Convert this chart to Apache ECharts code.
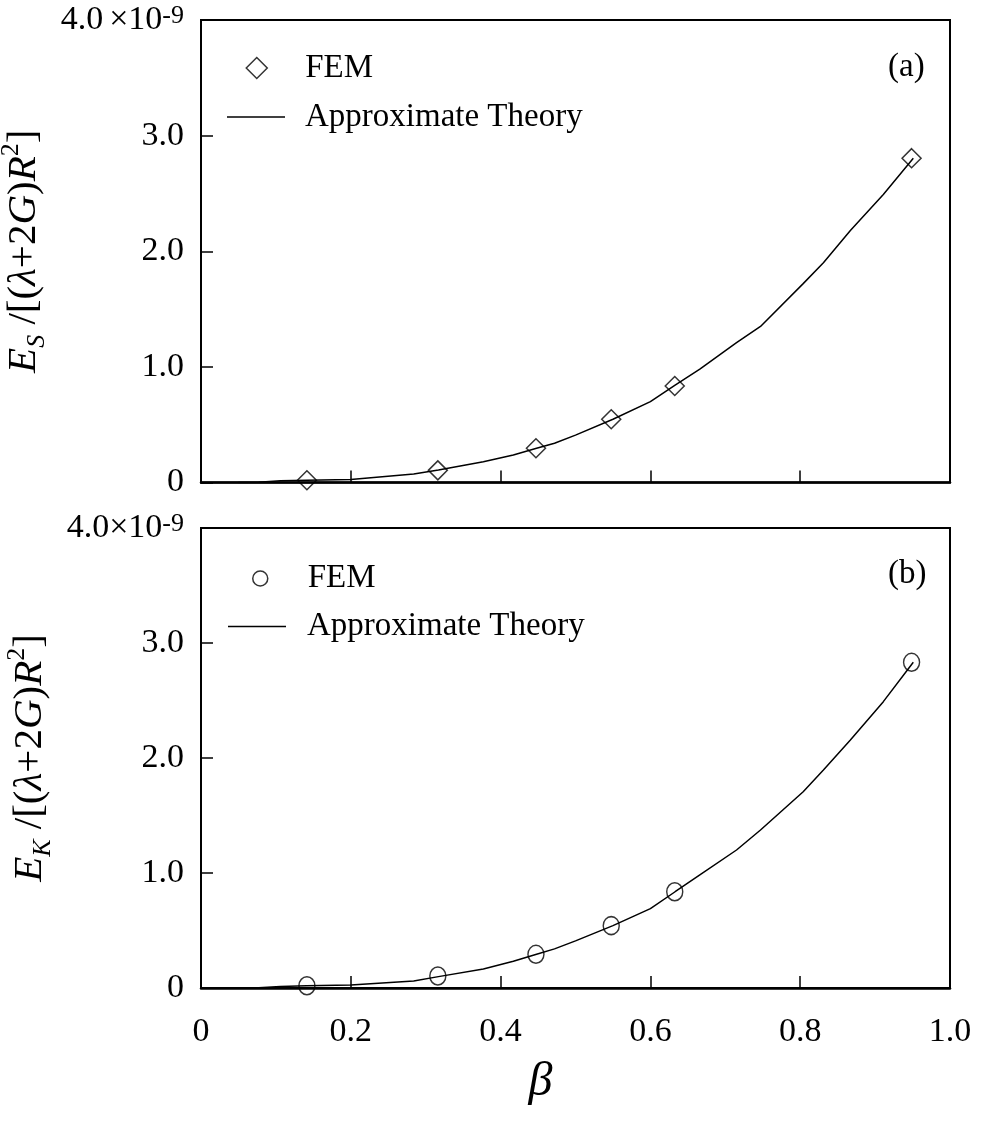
<!DOCTYPE html>
<html>
<head>
<meta charset="utf-8">
<title>Elastic energy vs beta</title>
<script src="https://cdn.jsdelivr.net/npm/echarts@6/dist/echarts.min.js"></script>
<style>
  html, body { margin: 0; padding: 0; background: #fff; }
  #chart { width: 988px; height: 1126px; }
</style>
</head>
<body>
<div id="chart"></div>
<script>
// FEM results (energies in units of 1e-9)
const betaFEM = [0.1414, 0.3162, 0.4472, 0.5477, 0.6325, 0.9487];
const esFEM = [0.02, 0.105, 0.296, 0.547, 0.835, 2.805];
const ekFEM = [0.02, 0.104, 0.293, 0.542, 0.837, 2.832];

// Approximate theory curves
const betaTheory = [0.05, 0.077, 0.106, 0.141, 0.200, 0.284, 0.317, 0.377, 0.417, 0.448, 0.472, 0.500, 0.550, 0.600, 0.633, 0.666, 0.715, 0.747, 0.804, 0.831, 0.867, 0.911, 0.951];
const esTheory = [0, 0.002, 0.016, 0.020, 0.025, 0.074, 0.108, 0.180, 0.238, 0.296, 0.339, 0.410, 0.547, 0.700, 0.843, 0.980, 1.210, 1.350, 1.720, 1.900, 2.180, 2.490, 2.805];
const ekTheory = [0, 0.003, 0.012, 0.020, 0.026, 0.060, 0.099, 0.165, 0.232, 0.293, 0.340, 0.410, 0.542, 0.690, 0.837, 0.983, 1.200, 1.374, 1.707, 1.896, 2.157, 2.490, 2.832];

const xTicks = [0, 0.2, 0.4, 0.6, 0.8, 1.0];
const yTicks = [0, 1, 2, 3, 4];

const FONT = "'Liberation Serif', 'Times New Roman', serif";
const BLACK = '#000';

function pairs(xs, ys) { return xs.map((x, i) => [x, ys[i]]); }

const nameRich = {
  i:   { fontFamily: FONT, fontStyle: 'italic', fontSize: 41, lineHeight: 52, color: BLACK },
  n:   { fontFamily: FONT, fontSize: 41, lineHeight: 52, color: BLACK },
  sub: { fontFamily: FONT, fontStyle: 'italic', fontSize: 26, lineHeight: 26, verticalAlign: 'bottom', color: BLACK },
  sup: { fontFamily: FONT, fontSize: 26, lineHeight: 26, verticalAlign: 'top', color: BLACK }
};

function yAxisFor(gridIndex, subLetter, topLabel) {
  return {
    type: 'value', gridIndex,
    min: yTicks[0], max: yTicks[yTicks.length - 1], interval: 1,
    name: '{i|E}{sub|' + subLetter + '}{n| /[(}{i|λ}{n|+2}{i|G}{n|)}{i|R}{sup|2}{n|]}',
    nameLocation: 'middle', nameRotate: 90, nameGap: 135,
    nameTextStyle: { rich: nameRich },
    axisLine: { show: true, lineStyle: { color: BLACK, width: 2 } },
    axisTick: { show: true, inside: true, length: 12, lineStyle: { color: BLACK, width: 1.5 } },
    splitLine: { show: false },
    axisLabel: {
      margin: 17, fontFamily: FONT, fontSize: 34, color: BLACK,
      formatter: v => v === 0 ? '0' : (v === 4 ? topLabel : v.toFixed(1)),
      rich: { sup: { fontFamily: FONT, fontSize: 26, lineHeight: 26, verticalAlign: 'top', color: BLACK },
              sp: { fontFamily: FONT, fontSize: 34, width: 6 } }
    }
  };
}

function xAxisFor(gridIndex, showLabels) {
  return {
    type: 'value', gridIndex,
    min: xTicks[0], max: xTicks[xTicks.length - 1], interval: 0.2,
    name: showLabels ? 'β' : '',
    nameLocation: 'middle', nameGap: 70,
    nameTextStyle: { fontFamily: FONT, fontStyle: 'italic', fontSize: 48, color: BLACK, padding: [0, 70, 0, 0] },
    axisLine: { show: true, lineStyle: { color: BLACK, width: 2.5 } },
    axisTick: { show: true, inside: true, length: 12, lineStyle: { color: BLACK, width: 1.5 } },
    splitLine: { show: false },
    axisLabel: {
      show: showLabels, margin: 27, fontFamily: FONT, fontSize: 34, color: BLACK,
      formatter: v => v === 0 ? '0' : v.toFixed(1)
    }
  };
}

const markerStyle = { color: 'transparent', borderColor: BLACK, borderWidth: 1.5 };
const lineIconStyle = { color: BLACK, borderWidth: 0 };
function legendText(pad) {
  return { fontFamily: FONT, fontSize: 33, color: BLACK, padding: [0, 0, 0, pad] };
}

const option = {
  backgroundColor: '#fff',
  animation: false,
  title: [
    { text: '(a)', left: 888, top: 51, padding: 0, textStyle: { fontFamily: FONT, fontSize: 33, fontWeight: 'normal', color: BLACK } },
    { text: '(b)', left: 888, top: 558, padding: 0, textStyle: { fontFamily: FONT, fontSize: 33, fontWeight: 'normal', color: BLACK } }
  ],
  legend: [
    { data: [{ name: 'FEM', icon: 'diamond', itemStyle: markerStyle }],
      left: 245.5, top: 51.5, padding: 0, itemWidth: 21, itemHeight: 21, selectedMode: false, textStyle: legendText(33) },
    { data: [{ name: 'Approximate Theory', icon: 'rect', itemStyle: lineIconStyle }],
      left: 227, top: 100.5, padding: 0, itemWidth: 58, itemHeight: 1.5, selectedMode: false, textStyle: legendText(15) },
    { data: [{ name: 'FEM', icon: 'circle', itemStyle: markerStyle }],
      left: 252, top: 562, padding: 0, itemWidth: 15, itemHeight: 15, selectedMode: false, textStyle: legendText(35) },
    { data: [{ name: 'Approximate Theory', icon: 'rect', itemStyle: lineIconStyle }],
      left: 228, top: 610, padding: 0, itemWidth: 58, itemHeight: 1.5, selectedMode: false, textStyle: legendText(16) }
  ],
  grid: [
    { left: 201, right: 38, top: 20, height: 462.5, containLabel: false, outerBoundsMode: 'none',
      show: true, borderColor: BLACK, borderWidth: 2, backgroundColor: 'transparent' },
    { left: 201, right: 38, top: 528, height: 460, containLabel: false, outerBoundsMode: 'none',
      show: true, borderColor: BLACK, borderWidth: 2, backgroundColor: 'transparent' }
  ],
  xAxis: [xAxisFor(0, false), xAxisFor(1, true)],
  yAxis: [yAxisFor(0, 'S', '4.0{sp| }×10{sup|-9}'), yAxisFor(1, 'K', '4.0×10{sup|-9}')],
  series: [
    { name: 'Approximate Theory', type: 'line', xAxisIndex: 0, yAxisIndex: 0,
      data: pairs(betaTheory, esTheory), symbol: 'none', smooth: false,
      lineStyle: { color: BLACK, width: 1.5 }, itemStyle: { color: BLACK }, z: 3 },
    { name: 'FEM', type: 'scatter', xAxisIndex: 0, yAxisIndex: 0,
      data: pairs(betaFEM, esFEM), symbol: 'diamond', symbolSize: [19, 19],
      itemStyle: markerStyle, z: 4 },
    { name: 'Approximate Theory', type: 'line', xAxisIndex: 1, yAxisIndex: 1,
      data: pairs(betaTheory, ekTheory), symbol: 'none', smooth: false,
      lineStyle: { color: BLACK, width: 1.5 }, itemStyle: { color: BLACK }, z: 3 },
    { name: 'FEM', type: 'scatter', xAxisIndex: 1, yAxisIndex: 1,
      data: pairs(betaFEM, ekFEM), symbol: 'circle', symbolSize: [16, 18],
      itemStyle: markerStyle, z: 4 }
  ]
};

const chart = echarts.init(document.getElementById('chart'), null, { renderer: 'canvas' });
chart.setOption(option);
</script>
</body>
</html>
